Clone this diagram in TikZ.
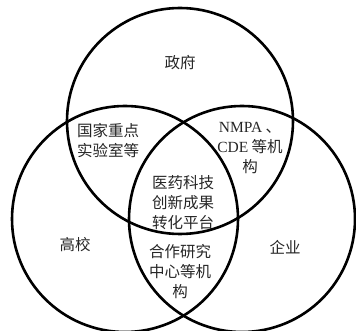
\documentclass[tikz,border=0pt]{standalone}
\usepackage{fontspec}
\setmainfont{Liberation Serif}
\newfontfamily\cjk{Noto Sans CJK SC}
\begin{document}
\begin{tikzpicture}[x=1pt,y=-1pt,
  ring/.style={draw=black,line width=2.6pt},
  lbl/.style={font=\fontsize{15.5}{20}\selectfont\cjk,align=center,text=black!85,inner sep=0pt}]
\useasboundingbox (0,0) rectangle (356,331);
\fill[white] (0,0) rectangle (356,331);
\begin{scope}
\clip (0,0) rectangle (356,331);
\node[circle,ring,minimum size=226pt,inner sep=0pt] (gov) at (180,121) {};
\node[circle,ring,minimum size=226pt,inner sep=0pt] (uni) at (125,219) {};
\node[circle,ring,minimum size=226pt,inner sep=0pt] (ent) at (242,219) {};
\end{scope}
\node[lbl] (tgov) at (180,63) {政府};
\node[lbl] (tlab) at (108,141) {国家重点\\实验室等};
\node[lbl] (tnmpa) at (250,148) {{\rmfamily NMPA} 、\\{\rmfamily CDE} 等机\\构};
\node[lbl] (tcen) at (183,203) {医药科技\\创新成果\\转化平台};
\node[lbl] (tuni) at (75,245) {高校};
\node[lbl] (tent) at (285,247) {企业};
\node[lbl] (tcoop) at (180,272) {合作研究\\中心等机\\构};
\end{tikzpicture}
\end{document}
